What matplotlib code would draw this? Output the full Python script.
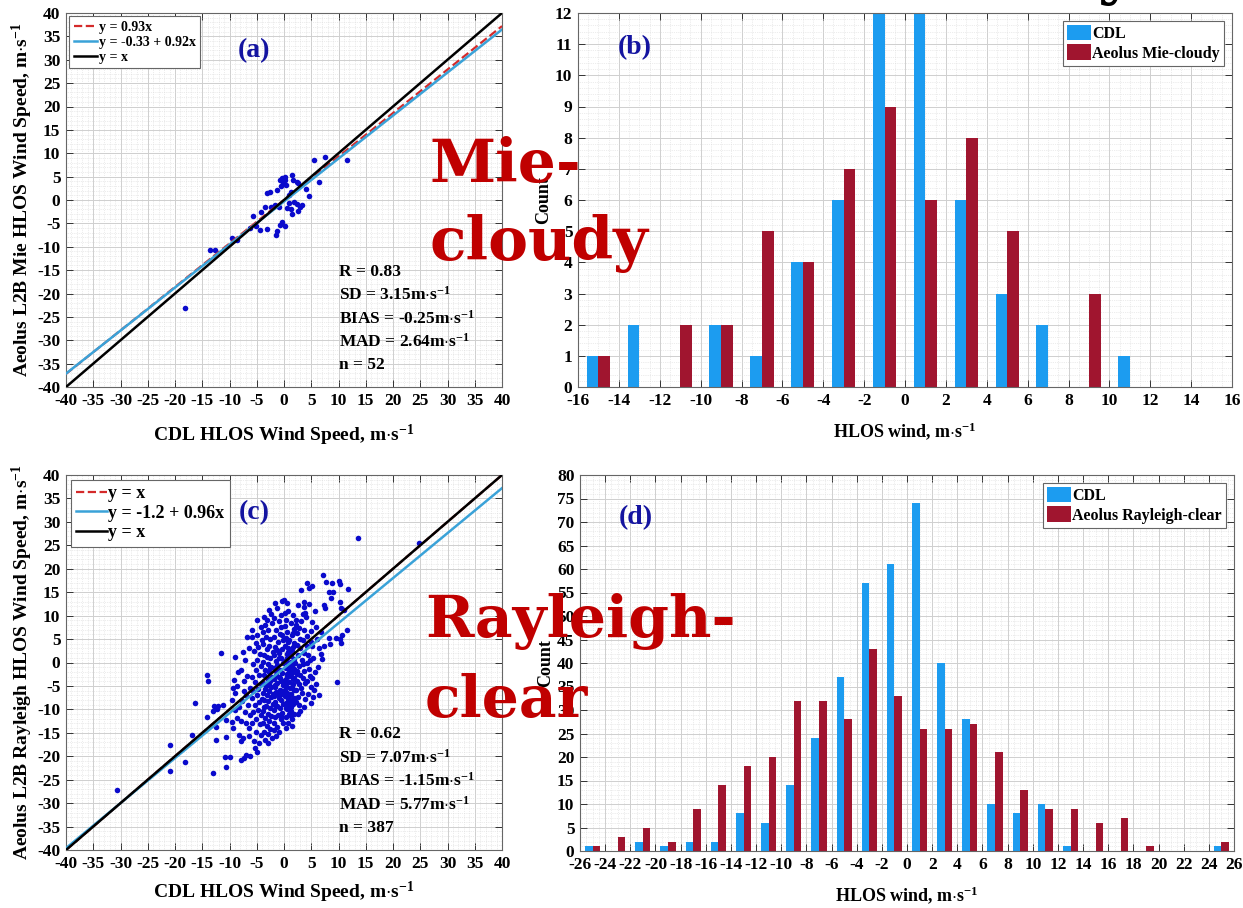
"""Aeolus L2B vs CDL HLOS wind comparison (Mie-cloudy / Rayleigh-clear)."""

import matplotlib

matplotlib.use("Agg")
import matplotlib.pyplot as plt
import numpy as np
from matplotlib.lines import Line2D
from matplotlib.ticker import MultipleLocator, AutoMinorLocator

plt.rcParams["font.family"] = ["Liberation Serif", "DejaVu Serif"]
plt.rcParams["font.weight"] = "bold"
plt.rcParams["axes.labelweight"] = "bold"
plt.rcParams["axes.unicode_minus"] = False
plt.rcParams["mathtext.fontset"] = "custom"
plt.rcParams["mathtext.rm"] = "Liberation Serif:bold"
plt.rcParams["mathtext.it"] = "Liberation Serif:bold"
plt.rcParams["mathtext.bf"] = "Liberation Serif:bold"
plt.rcParams["mathtext.default"] = "rm"

# ---- panel (a): Mie-cloudy collocations (CDL x, Aeolus y) ----
mie_pairs = [
    (-18.1, -23.0), (-13.5, -10.6), (-12.6, -10.8), (-9.5, -8.1), (-8.6, -8.5),
    (-6.2, -6.0), (-5.6, -3.4), (-5.2, -5.5), (-4.4, -6.4), (-3.1, -6.2),
    (-3.2, 1.6), (-2.5, 1.8), (-4.2, -2.6), (-3.4, -1.6), (-2.4, -1.5),
    (-2.0, -1.4), (-1.6, -1.1), (-1.2, 2.2), (-1.0, -1.5), (-1.4, -7.4),
    (-1.3, -6.7), (-0.8, -5.3), (-0.3, -4.7), (-0.8, 4.3), (-0.4, 4.8),
    (0.1, 5.0), (-0.2, 3.6), (0.4, 3.3), (-0.5, 2.9), (0.2, 4.3),
    (0.2, -5.6), (0.6, -1.7), (1.0, 1.1), (1.2, 1.7), (1.2, -1.9),
    (1.4, -2.9), (1.4, 5.4), (1.7, 4.3), (2.3, 3.9), (2.6, 3.6),
    (1.9, -0.4), (2.4, -0.9), (2.6, -2.3), (3.0, -1.6), (3.3, -1.1),
    (0.9, -0.6), (4.0, 2.3), (4.6, 0.8), (5.5, 8.6), (6.4, 3.8),
    (7.5, 9.3), (11.6, 8.6),
]

# ---- panel (c): Rayleigh-clear collocations (CDL x, Aeolus y) ----
ray_pairs = [
    # outliers, x < -10
    (-30.6, -27.1), (-21.0, -23.1), (-21.0, -17.6), (-18.1, -21.2), (-16.8, -15.5),
    (-16.3, -8.6), (-14.1, -2.7), (-14.1, -11.7), (-13.9, -3.9), (-12.8, -9.3),
    (-13.1, -10.4), (-12.2, -9.3), (-12.5, -13.7), (-12.5, -16.5), (-13.0, -23.6),
    (-12.3, -10.0), (-11.6, 2.1), (-10.7, -15.8), (-10.9, -20.2), (-10.6, -22.2),
    (-10.6, -12.3), (-11.2, -9.1),
    # -10 .. -8
    (-8.9, 1.1), (-9.2, -3.7), (-9.3, -5.5), (-8.9, -6.5), (-8.6, -5.1),
    (-9.6, -12.6), (-8.7, -11.9), (-9.9, -20.2), (-9.5, -8.0), (-8.3, -9.5),
    (-9.0, -10.2), (-8.4, -2.0), (-8.2, -15.5), (-9.3, -14.0),
    # -8 .. -6
    (-6.7, 5.5), (-7.9, -20.7), (-7.3, -20.3), (-6.9, -19.8), (-6.2, -20.0),
    (-7.9, -16.8), (-7.5, -16.1), (-6.5, -15.7), (-7.6, 2.3), (-7.2, 0.5),
    (-6.4, 3.0), (-7.8, -1.5), (-6.8, -2.8), (-7.4, -4.0), (-6.3, -5.5),
    (-7.0, -7.0), (-7.7, -8.3), (-6.6, -9.0), (-7.2, -10.5), (-6.2, -11.2),
    (-7.8, -12.5), (-6.9, -13.0), (-6.4, -14.0), (-7.3, -6.0),
    # -6 .. -4
    (-5.8, 5.4), (-4.9, 5.9), (-4.9, 9.1), (-5.5, -16.8), (-5.4, -18.2),
    (-4.6, -17.2), (-5.2, -14.8), (-4.3, -15.5), (-5.9, -12.8), (-5.1, -12.0),
    (-4.4, -13.1), (-5.7, -10.6), (-4.8, -10.2), (-4.2, -11.3), (-5.3, -9.0),
    (-4.5, -8.4), (-5.9, -7.6), (-5.0, -7.0), (-4.1, -7.8), (-5.6, -6.0),
    (-4.7, -5.6), (-4.2, -4.6), (-5.4, -4.2), (-5.8, -3.0), (-4.6, -2.6),
    (-5.1, -1.5), (-4.3, -0.8), (-5.7, -0.3), (-4.9, 0.6), (-4.4, 1.8),
    (-5.5, 2.5), (-4.8, 3.4), (-5.2, 4.2), (-4.1, 4.8), (-5.9, 7.0),
    (-4.3, 7.5), (-5.0, -19.0),
    # -4 .. -2
    (-3.7, 9.8), (-2.8, 11.2), (-3.2, 9.1), (-2.4, 10.3), (-3.5, 8.0),
    (-2.2, 8.5), (-3.9, 6.5), (-2.9, 7.0), (-3.3, 5.5), (-2.5, 5.0),
    (-3.8, 4.0), (-2.7, 3.6), (-3.1, 2.8), (-2.1, 2.2), (-3.6, 1.5),
    (-2.6, 0.9), (-3.9, 0.2), (-3.0, -0.4), (-2.3, -0.9), (-3.4, -1.6),
    (-2.8, -2.0), (-3.7, -2.6), (-2.2, -3.0), (-3.2, -3.3), (-2.6, -3.9),
    (-3.8, -4.3), (-3.0, -4.8), (-2.3, -5.2), (-3.5, -5.7), (-2.7, -6.1),
    (-3.9, -6.6), (-3.1, -7.0), (-2.4, -7.4), (-3.6, -7.9), (-2.9, -8.3),
    (-2.1, -8.8), (-3.3, -9.2), (-2.6, -9.8), (-3.8, -10.3), (-3.0, -10.9),
    (-2.3, -11.4), (-3.5, -11.9), (-2.8, -12.5), (-3.9, -13.0), (-3.2, -13.6),
    (-2.5, -14.2), (-3.6, -14.8), (-2.9, -15.3), (-2.2, -16.0), (-3.4, -16.6),
    (-3.0, -17.2), (-2.5, -1.2), (-3.3, -5.0), (-2.0, -6.8), (-3.7, -9.5),
    (-2.7, -4.5), (-3.2, 1.2),
    # -2 .. 0
    (-1.3, 11.6), (-0.6, 10.1), (-1.7, 12.8), (-0.3, 13.1), (-1.0, 8.9),
    (-1.9, 9.5), (-0.5, 7.6), (-1.5, 7.0), (-0.8, 6.1), (-1.8, 5.5),
    (-0.2, 4.9), (-1.1, 4.3), (-1.6, 3.4), (-0.4, 2.9), (-0.9, 2.1),
    (-1.9, 1.6), (-0.6, 1.0), (-1.4, 0.4), (-0.1, -0.1), (-1.2, -0.6),
    (-1.8, -1.1), (-0.7, -1.6), (-0.3, -2.2), (-1.5, -2.6), (-0.9, -3.1),
    (-1.9, -3.5), (-0.5, -4.0), (-1.2, -4.4), (-0.2, -4.9), (-1.7, -5.3),
    (-0.8, -5.8), (-1.4, -6.2), (-0.4, -6.7), (-1.9, -7.1), (-1.0, -7.5),
    (-0.6, -8.0), (-1.6, -8.4), (-0.2, -8.9), (-1.3, -9.3), (-0.8, -9.8),
    (-1.8, -10.2), (-0.4, -10.7), (-1.1, -11.1), (-1.6, -11.6), (-0.6, -12.1),
    (-0.2, -13.0), (-1.2, -13.7), (-1.8, -13.0), (-1.9, -14.4), (-0.9, -14.9),
    (-1.4, -15.6), (-0.7, -3.4), (-1.5, -1.9), (-0.3, -6.0), (-1.0, 0.9),
    (-1.7, -9.0), (-0.5, -11.5), (-1.3, 2.6), (-0.9, -7.0), (-1.6, -4.8),
    (-0.4, 5.8),
    # 0 .. 2
    (0.0, 13.3), (0.5, 12.7), (0.3, 9.1), (0.1, 7.8), (1.3, -9.5),
    (1.0, -10.9), (0.3, -11.7), (1.5, -12.0), (0.8, 11.0), (1.6, 10.2),
    (0.2, 10.6), (1.2, 8.4), (1.8, 7.2), (0.6, 6.6), (1.4, 5.9),
    (0.4, 5.2), (1.0, 4.7), (1.9, 4.1), (0.2, 3.6), (0.8, 3.0),
    (1.5, 2.5), (0.5, 1.9), (1.2, 1.4), (1.8, 0.8), (0.1, 0.3),
    (0.7, -0.2), (1.4, -0.7), (0.3, -1.2), (1.0, -1.6), (1.7, -2.0),
    (0.5, -2.5), (1.2, -2.9), (1.9, -3.3), (0.2, -3.8), (0.9, -4.2),
    (1.6, -4.6), (0.4, -5.1), (1.1, -5.5), (1.8, -5.9), (0.6, -6.4),
    (1.3, -6.8), (0.1, -7.2), (0.8, -7.7), (1.5, -8.1), (0.3, -8.6),
    (1.0, -9.0), (1.7, -8.9), (0.5, -10.0), (1.2, -10.4), (1.9, -11.0),
    (0.7, -12.8), (1.4, -13.5), (0.4, -14.0), (0.9, -1.0), (1.6, -3.6),
    (0.2, -5.8), (1.1, -7.0), (1.8, -1.4), (0.6, -3.1), (1.3, 0.2),
    (0.3, -9.6), (1.7, 3.3), (0.8, 2.2), (1.5, -5.2), (0.1, -4.4),
    (1.0, -2.3), (1.9, -7.5), (0.5, 0.9), (1.2, -11.4), (0.7, 4.4),
    (1.4, -0.1), (0.4, -6.9), (1.6, 6.3), (0.9, -8.3),
    # 2 .. 4
    (3.2, 15.4), (2.2, 9.1), (2.2, 8.0), (3.7, 13.0), (3.7, 11.9),
    (3.4, 10.3), (3.9, 10.6), (3.7, 6.9), (3.4, 4.8), (3.7, 2.1),
    (3.7, -1.9), (3.4, -3.4), (2.8, -4.5), (3.1, -5.5), (2.2, -5.9),
    (2.5, -7.3), (2.8, -9.1), (2.6, 12.2), (2.4, 6.2), (2.9, 5.0),
    (2.3, 3.7), (3.0, 3.0), (2.6, 1.5), (3.3, 0.6), (2.1, 0.0),
    (2.8, -0.8), (3.5, -0.3), (2.3, -1.8), (2.9, -2.6), (3.8, -4.4),
    (2.4, -3.9), (3.3, -6.6), (3.8, -7.8), (2.2, -8.4), (3.0, -10.3),
    (2.5, -11.0), (3.6, -9.4), (2.7, 7.4), (3.2, 8.8), (2.4, -2.5),
    # 4 .. 6
    (4.3, 17.0), (5.1, 16.4), (4.6, 15.8), (4.3, 5.6), (4.9, 4.4),
    (4.2, 3.5), (5.2, 3.5), (5.2, 8.7), (5.8, 7.6), (4.8, 0.6),
    (4.3, -0.2), (4.6, -1.3), (5.2, -3.4), (5.8, -4.5), (4.9, -5.2),
    (5.5, -5.9), (4.9, -8.6), (4.5, 12.5), (5.6, 11.0), (4.1, 9.8),
    (5.0, 6.8), (4.4, 1.6), (5.4, 1.0), (4.7, -2.8), (4.2, -4.0),
    (5.7, -2.0), (4.4, -6.8), (5.3, -7.3),
    # x > 6
    (7.2, 18.7), (7.7, 17.1), (7.4, 12.3), (7.5, 11.6), (6.1, 5.1),
    (6.7, 6.6), (6.4, 3.0), (7.4, 3.5), (6.7, 1.9), (7.0, 0.7),
    (6.2, -0.9), (6.4, -7.0), (8.8, 17.0), (8.3, 15.1), (8.9, 15.0),
    (8.6, 13.7), (8.3, 5.3), (9.6, 5.3), (9.7, -4.1), (8.5, 4.0),
    (10.1, 17.4), (10.3, 16.7), (11.8, 15.6), (10.3, 13.0), (10.4, 11.6),
    (11.0, 11.1), (11.6, 7.0), (10.7, 5.8), (10.2, 5.1), (10.4, 4.1),
    (13.6, 26.5), (24.8, 25.6),
]

# regression lines shown in the legends: (intercept, slope)
mie_ref = (0.0, 0.93)
mie_fit = (-0.33, 0.92)
ray_ref = (0.0, 1.0)
ray_fit = (-1.2, 0.96)

mie_labels = ["y = 0.93x", "y = -0.33 + 0.92x", "y = x"]
ray_labels = ["y = x", "y = -1.2 + 0.96x", "y = x"]

mie_stats = ["R = 0.83", r"SD = 3.15m$\cdot$s$^{-1}$", r"BIAS = -0.25m$\cdot$s$^{-1}$",
             r"MAD = 2.64m$\cdot$s$^{-1}$", "n = 52"]
ray_stats = ["R = 0.62", r"SD = 7.07m$\cdot$s$^{-1}$", r"BIAS = -1.15m$\cdot$s$^{-1}$",
             r"MAD = 5.77m$\cdot$s$^{-1}$", "n = 387"]

# ---- histograms (2 m/s bins, bin centres) ----
mie_bins = [-15, -13, -11, -9, -7, -5, -3, -1, 1, 3, 5, 7, 9, 11, 13, 15]
mie_cdl_counts = [1, 2, 0, 2, 1, 4, 6, 12, 12, 6, 3, 2, 0, 1, 0, 0]
mie_aeolus_counts = [1, 0, 2, 2, 5, 4, 7, 9, 6, 8, 5, 0, 3, 0, 0, 0]

ray_bins = [-25, -23, -21, -19, -17, -15, -13, -11, -9, -7, -5, -3, -1,
            1, 3, 5, 7, 9, 11, 13, 15, 17, 19, 21, 23, 25]
ray_cdl_counts = [1, 0, 2, 1, 2, 2, 8, 6, 14, 24, 37, 57, 61,
                  74, 40, 28, 10, 8, 10, 1, 0, 0, 0, 0, 0, 1]
ray_aeolus_counts = [1, 3, 5, 2, 9, 14, 18, 20, 32, 32, 28, 43, 33,
                     26, 26, 27, 21, 13, 9, 9, 6, 7, 1, 0, 0, 2]

CDL_BLUE = "#1c9cf0"
AEOLUS_RED = "#a0152f"
DOT_BLUE = "#0a0acc"
FIT_BLUE = "#3aa2d8"
REF_RED = "#d42a2a"
TAG_BLUE = "#1414a0"
BIG_RED = "#c00000"
UNIT = r"m$\cdot$s$^{-1}$"

W, H = 1243, 908


def px_axes(fig, left, top, right, bottom):
    return fig.add_axes([left / W, 1 - bottom / H, (right - left) / W, (bottom - top) / H])


def style_axes(ax, xmajor, ymajor, xminor, yminor):
    ax.xaxis.set_major_locator(MultipleLocator(xmajor))
    ax.yaxis.set_major_locator(MultipleLocator(ymajor))
    ax.xaxis.set_minor_locator(AutoMinorLocator(xminor))
    ax.yaxis.set_minor_locator(AutoMinorLocator(yminor))
    ax.set_axisbelow(True)
    ax.grid(which="major", color="#cfcfcf", lw=0.7)
    ax.grid(which="minor", color="#dadada", lw=0.5, ls=":")
    ax.tick_params(which="major", direction="in", top=True, right=True,
                   length=5, width=0.7, labelsize=12.5, pad=4, color="#333333")
    ax.tick_params(which="minor", length=0)
    for lab in ax.get_xticklabels() + ax.get_yticklabels():
        lab.set_fontweight("bold")
    for sp in ax.spines.values():
        sp.set_color("#666666")
        sp.set_linewidth(0.8)


def scatter_panel(ax, pairs, ref, fit, labels, stats, ylabel, tag, leg_size, xlabelpad):
    xs = [p[0] for p in pairs]
    ys = [p[1] for p in pairs]
    ax.scatter(xs, ys, s=16, color=DOT_BLUE, linewidths=0, zorder=2)
    line_x = np.array([-40.0, 40.0])
    ax.plot(line_x, ref[0] + ref[1] * line_x, "--", color=REF_RED, lw=1.6, zorder=3)
    ax.plot(line_x, fit[0] + fit[1] * line_x, "-", color=FIT_BLUE, lw=1.8, zorder=3)
    ax.plot(line_x, line_x, "-", color="black", lw=1.8, zorder=4)
    ax.set_xlim(-40, 40)
    ax.set_ylim(-40, 40)
    style_axes(ax, 5, 5, 5, 5)
    handles = [
        Line2D([], [], ls="--", color=REF_RED, lw=1.6),
        Line2D([], [], ls="-", color=FIT_BLUE, lw=1.8),
        Line2D([], [], ls="-", color="black", lw=1.8),
    ]
    leg = ax.legend(handles, labels, loc="upper left",
                    prop={"size": leg_size, "weight": "bold"},
                    handlelength=1.7, handletextpad=0.1, labelspacing=0.15,
                    borderaxespad=0.25, borderpad=0.3, fancybox=False,
                    framealpha=1, edgecolor="#666666")
    leg.get_frame().set_linewidth(0.8)
    ax.text(-5.5, 32, tag, color=TAG_BLUE, fontsize=20, fontweight="bold",
            ha="center", va="center")
    for i, s in enumerate(stats):
        ax.text(10.1, -15.3 - 5.0 * i, s, fontsize=12.5, fontweight="bold",
                ha="left", va="center")
    ax.set_xlabel("CDL HLOS Wind Speed, " + UNIT, fontsize=14, labelpad=xlabelpad)
    ax.set_ylabel(ylabel + UNIT, fontsize=14, labelpad=2)


def hist_panel(ax, bins, cdl, aeolus, width, xlim, ymax, ymajor, label2, tag, tag_xy):
    centers = np.array(bins, dtype=float)
    ax.bar(centers - width / 2, cdl, width=width, color=CDL_BLUE, zorder=2,
           label="CDL")
    ax.bar(centers + width / 2, aeolus, width=width, color=AEOLUS_RED, zorder=2,
           label=label2)
    ax.set_xlim(*xlim)
    ax.set_ylim(0, ymax)
    style_axes(ax, 2, ymajor, 4, 5)
    leg = ax.legend(loc="upper right", prop={"size": 11.5, "weight": "bold"},
                    handlelength=1.5, handleheight=1.1, handletextpad=0.1,
                    labelspacing=0.15, borderaxespad=0.5, borderpad=0.25,
                    fancybox=False, framealpha=1, edgecolor="#666666")
    leg.get_frame().set_linewidth(0.8)
    ax.text(tag_xy[0], tag_xy[1], tag, color=TAG_BLUE, fontsize=20,
            fontweight="bold", ha="center", va="center")
    ax.set_xlabel("HLOS wind, " + UNIT, fontsize=13, labelpad=8)
    ax.set_ylabel("Count", fontsize=13, labelpad=2)


def main():
    fig = plt.figure(figsize=(W / 100, H / 100), dpi=100)

    ax_a = px_axes(fig, 66, 13, 502, 387)
    scatter_panel(ax_a, mie_pairs, mie_ref, mie_fit, mie_labels, mie_stats,
                  "Aeolus L2B Mie HLOS Wind Speed, ", "(a)", 10, 10)

    ax_c = px_axes(fig, 66, 475, 502, 850)
    scatter_panel(ax_c, ray_pairs, ray_ref, ray_fit, ray_labels, ray_stats,
                  "Aeolus L2B Rayleigh HLOS Wind Speed, ", "(c)", 13, 6)

    ax_b = px_axes(fig, 578, 13, 1232, 387)
    hist_panel(ax_b, mie_bins, mie_cdl_counts, mie_aeolus_counts, 0.57,
               (-16, 16), 12, 1, "Aeolus Mie-cloudy", "(b)", (-13.2, 10.9))

    ax_d = px_axes(fig, 580, 475, 1234, 851)
    hist_panel(ax_d, ray_bins, ray_cdl_counts, ray_aeolus_counts, 0.6,
               (-26, 26), 80, 5, "Aeolus Rayleigh-clear", "(d)", (-21.6, 71))

    # large red overlay annotations
    big = dict(family="DejaVu Serif", weight="bold", color=BIG_RED,
               ha="left", va="baseline", zorder=10)
    fig.text(430 / W, 1 - 182 / H, "Mie-", fontsize=43, **big)
    fig.text(430 / W, 1 - 260 / H, "cloudy", fontsize=43, **big)
    fig.text(425 / W, 1 - 637 / H, "Rayleigh-", fontsize=42, **big)
    fig.text(425 / W, 1 - 717 / H, "clear", fontsize=42, **big)
    # tail of a cut-off word at the top edge
    fig.text(1098 / W, 1 + 8 / H, "y", fontsize=45, family="DejaVu Serif",
             weight="bold", color="black", ha="left", va="baseline")

    fig.savefig("out.png", dpi=100)


if __name__ == "__main__":
    main()
